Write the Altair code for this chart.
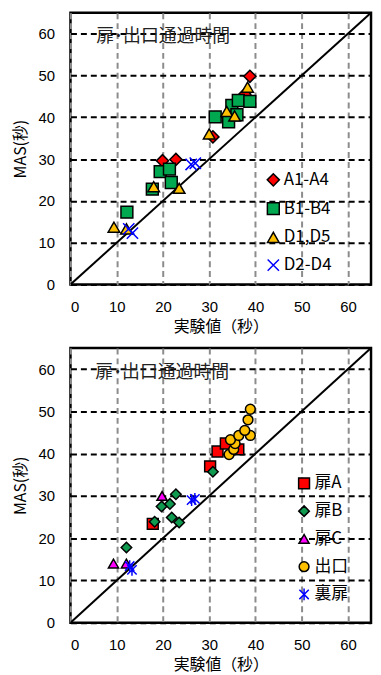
import altair as alt
import pandas as pd

# ---------------- data ----------------
panel_title = "扉･出口通過時間"
x_title = "実験値（秒）"
y_title = "MAS(秒)"
tick_values = [0, 10, 20, 30, 40, 50, 60]
diag_vals = [0, 65]

# top panel groups
top_groups = ["A1-A4", "B1-B4", "D1,D5", "D2-D4"]
a_x = [19.9, 22.8, 30.8, 37.7, 38.8]
a_y = [29.6, 29.9, 35.3, 45.5, 49.8]
b_x = [12.2, 17.7, 19.4, 21.4, 21.8, 31.3, 34.2, 34.9, 36.3, 38.8, 36.0]
b_y = [17.3, 22.8, 27.0, 27.6, 24.4, 40.1, 38.9, 42.8, 44.0, 43.8, 40.6]
d15_x = [9.4, 12.1, 18.0, 23.5, 30.0, 33.8, 35.5, 38.3]
d15_y = [13.7, 13.3, 23.4, 23.0, 36.0, 41.4, 40.3, 47.2]
d24_x = [12.6, 13.4, 26.1, 27.0]
d24_y = [13.3, 12.3, 28.7, 29.0]

# bottom panel groups
bot_groups = ["扉A", "扉B", "扉C", "出口", "裏扉"]
ea_x = [17.8, 30.2, 31.8, 33.6, 36.3]
ea_y = [23.4, 37.0, 40.5, 42.4, 41.0]
eb_x = [12.1, 18.2, 19.7, 21.5, 21.9, 22.8, 23.5, 30.8]
eb_y = [17.8, 23.9, 27.5, 28.1, 24.9, 30.4, 23.7, 35.7]
ec_x = [9.3, 12.1, 19.8]
ec_y = [14.0, 14.0, 30.0]
ex_x = [34.3, 35.3, 35.6, 34.6, 36.4, 38.9, 37.7, 38.4, 38.9]
ex_y = [39.8, 41.0, 42.4, 43.3, 44.3, 44.3, 45.5, 48.0, 50.5]
ur_x = [12.8, 13.3, 26.2, 26.9]
ur_y = [13.4, 12.5, 29.0, 29.3]

# ---------------- build tables ----------------
def table(groups, xs, ys):
    rows = []
    for order, (g, gx, gy) in enumerate(zip(groups, xs, ys)):
        for vx, vy in zip(gx, gy):
            rows.append({"g": g, "x": vx, "y": vy, "o": order})
    return pd.DataFrame(rows)

top_df = table(top_groups, [a_x, b_x, d15_x, d24_x], [a_y, b_y, d15_y, d24_y])
bot_df = table(bot_groups, [ea_x, eb_x, ec_x, ex_x, ur_x], [ea_y, eb_y, ec_y, ex_y, ur_y])
diag_df = pd.DataFrame({"x": diag_vals, "y": diag_vals})
title_df = pd.DataFrame({"t": [panel_title]})

XMARK = "M-1,-1L1,1M-1,1L1,-1"
STAR = "M-1,-1L1,1M-1,1L1,-1M0,-1.25L0,1.25"

JP = "Noto Sans CJK JP"
NUM = "Liberation Sans"

scale_xy = alt.Scale(domain=[0, 65], nice=False, zero=False)


def panel(df, groups, shapes, fills, strokes, sizes, swidths, lx, ly, tx, ty, h):
    xenc = alt.X("x:Q", scale=scale_xy,
                 axis=alt.Axis(values=tick_values, title=x_title, grid=True,
                               gridColor="#8c8c8c", gridDash=[6, 4], gridWidth=2,
                               ticks=False, domain=False, labelPadding=15,
                               labelFontSize=15, labelFont=NUM, labelColor="black",
                               titleFont=JP, titleFontSize=16, titleFontWeight="normal",
                               titleColor="black", titlePadding=4))
    yenc = alt.Y("y:Q", scale=scale_xy,
                 axis=alt.Axis(values=tick_values, title=y_title, grid=True,
                               gridColor="black", gridDash=[6, 4], gridWidth=2,
                               ticks=False, domain=False, labelPadding=16,
                               labelFontSize=15, labelFont=NUM, labelColor="black",
                               titleFont=JP, titleFontSize=16, titleFontWeight="normal",
                               titleColor="black", titlePadding=10))
    leg = alt.Legend(title=None, orient="none", legendX=lx, legendY=ly,
                     labelFont=JP, labelFontSize=17, labelColor="black",
                     rowPadding=10, padding=0, labelOffset=2)
    points = alt.Chart(df).mark_point(filled=False, opacity=1).encode(
        x=xenc, y=yenc,
        shape=alt.Shape("g:N", scale=alt.Scale(domain=groups, range=shapes), legend=leg),
        fill=alt.Fill("g:N", scale=alt.Scale(domain=groups, range=fills), legend=leg),
        stroke=alt.Stroke("g:N", scale=alt.Scale(domain=groups, range=strokes), legend=leg),
        size=alt.Size("g:N", scale=alt.Scale(domain=groups, range=sizes), legend=leg),
        strokeWidth=alt.StrokeWidth("g:N", scale=alt.Scale(domain=groups, range=swidths), legend=leg),
        order=alt.Order("o:Q"),
    )
    diag = alt.Chart(diag_df).mark_line(color="black", strokeWidth=2, clip=True).encode(
        x=alt.X("x:Q", scale=scale_xy), y=alt.Y("y:Q", scale=scale_xy))
    txt = alt.Chart(title_df).mark_text(align="left", baseline="middle", font=JP,
                                        fontSize=18, color="#222").encode(
        text="t:N", x=alt.value(tx), y=alt.value(ty))
    return alt.layer(diag, points, txt).properties(width=303, height=h)


top = panel(top_df, top_groups,
            ["diamond", "square", "triangle-up", XMARK],
            ["#ff0000", "#00a850", "#ffc000", "#0000ff"],
            ["black", "black", "black", "#0000ff"],
            [150, 130, 120, 130],
            [1.5, 1.5, 1.5, 2.5],
            196, 160, 26, 25, 274)

bot = panel(bot_df, bot_groups,
            ["square", "diamond", "triangle-up", "circle", STAR],
            ["#ff0000", "#109a50", "#ff00ff", "#ffc000", "#0000ff"],
            ["black", "black", "black", "black", "#0000ff"],
            [120, 90, 110, 150, 100],
            [1.5, 1.5, 1.5, 1.5, 2.5],
            227, 128, 25, 25, 277)

chart = alt.vconcat(top, bot, spacing=10).resolve_scale(
    shape="independent", fill="independent", stroke="independent",
    size="independent", strokeWidth="independent"
).properties(
    padding={"left": 3, "top": 0, "right": 0, "bottom": 3}
).configure_view(stroke="black", strokeWidth=2.5)

chart.save("out.html", embed_options={"renderer": "svg", "actions": False})
